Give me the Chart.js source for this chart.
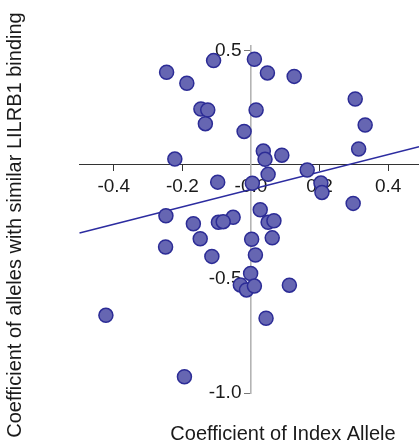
<!DOCTYPE html>
<html>
<head>
<meta charset="utf-8">
<script src="https://cdn.jsdelivr.net/npm/chart.js@4/dist/chart.umd.min.js"></script>
<style>
  html, body { margin: 0; padding: 0; background: #ffffff; }
  #wrap { width: 419px; height: 441px; position: relative; }
</style>
</head>
<body>
<div id="wrap"><canvas id="c" width="419" height="441"></canvas></div>
<script>
// Coefficient of the index allele (x) and of alleles with similar LILRB1 binding (y)
const indexCoef = [
  -0.246, -0.187, -0.109, -0.146, -0.126, -0.133, -0.222, -0.020, 0.010, 0.048,
   0.126,  0.304,  0.333,  0.314,  0.015,  0.036,  0.041,  0.090, 0.164, 0.050,
   0.004,  0.204,  0.207,  0.298, -0.052,  0.027,  0.050,  0.067, 0.062, 0.002,
   0.013, -0.001, -0.031, -0.013,  0.010,  0.112, -0.097, -0.248, -0.168, -0.095,
  -0.081, -0.148, -0.249, -0.114, -0.423, -0.194,  0.044
];
const similarCoef = [
   0.405,  0.357,  0.456,  0.244,  0.240,  0.180,  0.025,  0.146,  0.462,  0.402,
   0.387,  0.288,  0.174,  0.069,  0.240,  0.060,  0.024,  0.042, -0.023, -0.042,
  -0.081, -0.080, -0.121, -0.169, -0.230, -0.197, -0.252, -0.245, -0.320, -0.326,
  -0.395, -0.476, -0.526, -0.548, -0.531, -0.527, -0.076, -0.223, -0.258, -0.252,
  -0.249, -0.324, -0.360, -0.401, -0.659, -0.928, -0.672
];

// Fitted regression line, end points
const fitX = [-0.5, 0.49];
const fitY = [-0.299, 0.079];

// Axis ticks and labels
const xTickValues = [-0.4, -0.2, 0, 0.2, 0.4];
const xTickLabels = ['-0.4', '-0.2', '-0.0', '0.2', '0.4'];
const yTickValues = [0.5, -0.5, -1.0];
const yTickLabels = ['0.5', '-0.5', '-1.0'];

const xTitle = 'Coefficient of Index Allele';
const yTitle = 'Coefficient of alleles with similar LILRB1 binding';

const FONT = '"Liberation Sans", Arial, Helvetica, sans-serif';

const points = indexCoef.map((x, i) => ({ x: x, y: similarCoef[i] }));
const fitLine = fitX.map((x, i) => ({ x: x, y: fitY[i] }));

// Axis titles, drawn outside the plot area
const axisTitles = {
  id: 'axisTitles',
  afterDraw(chart) {
    const ctx = chart.ctx;
    ctx.save();
    ctx.fillStyle = '#1a1a1a';
    ctx.font = '20px ' + FONT;
    ctx.textAlign = 'center';
    ctx.textBaseline = 'alphabetic';
    ctx.fillText(xTitle, 283, 440);
    ctx.translate(21, 225);
    ctx.rotate(-Math.PI / 2);
    ctx.fillText(yTitle, 0, 0);
    ctx.restore();
  }
};

// Axes cross at the origin; keep their label overflow from shrinking the plot area
const noOverflow = s => { s.paddingLeft = 0; s.paddingRight = 0; s.paddingTop = 0; s.paddingBottom = 0; };

new Chart(document.getElementById('c'), {
  data: {
    datasets: [
      {
        type: 'scatter',
        data: points,
        order: 1,
        pointRadius: 7,
        pointHoverRadius: 7,
        pointBackgroundColor: 'rgb(102, 102, 178)',
        pointBorderColor: 'rgb(44, 44, 150)',
        pointBorderWidth: 1.5,
        clip: false
      },
      {
        type: 'line',
        data: fitLine,
        order: 2,
        borderColor: 'rgb(44, 44, 160)',
        borderWidth: 1.6,
        pointRadius: 0,
        fill: false,
        clip: false
      }
    ]
  },
  options: {
    responsive: false,
    devicePixelRatio: 1,
    animation: false,
    events: [],
    layout: { autoPadding: false, padding: { left: 79.5, right: 0, top: 46, bottom: 47.8 } },
    plugins: { legend: { display: false }, tooltip: { enabled: false } },
    scales: {
      x: {
        type: 'linear',
        position: { y: 0 },
        min: -0.5,
        max: 0.49,
        afterBuildTicks: s => { s.ticks = xTickValues.map(v => ({ value: v })); },
        afterFit: noOverflow,
        ticks: {
          autoSkip: false,
          maxRotation: 0,
          padding: 5,
          color: '#1a1a1a',
          font: { family: FONT, size: 19 },
          callback: v => xTickLabels[xTickValues.indexOf(v)]
        },
        grid: { drawOnChartArea: false, drawTicks: true, tickLength: 6, color: '#333333', lineWidth: 1 },
        border: { display: true, color: '#333333', width: 1 }
      },
      y: {
        type: 'linear',
        position: { x: 0 },
        min: -1.0,
        max: 0.52,
        afterBuildTicks: s => { s.ticks = yTickValues.map(v => ({ value: v })); },
        afterFit: noOverflow,
        ticks: {
          autoSkip: false,
          color: '#1a1a1a',
          font: { family: FONT, size: 19 },
          // labels sit right-aligned on the axis line; an en space keeps them clear of the tick marks
          callback: v => yTickLabels[yTickValues.indexOf(v)] + '\u2002'
        },
        grid: { drawOnChartArea: false, drawTicks: true, tickLength: 6, color: '#777777', lineWidth: 1 },
        border: { display: true, color: '#b4b4b4', width: 1.6 }
      }
    }
  },
  plugins: [axisTitles]
});
</script>
</body>
</html>
